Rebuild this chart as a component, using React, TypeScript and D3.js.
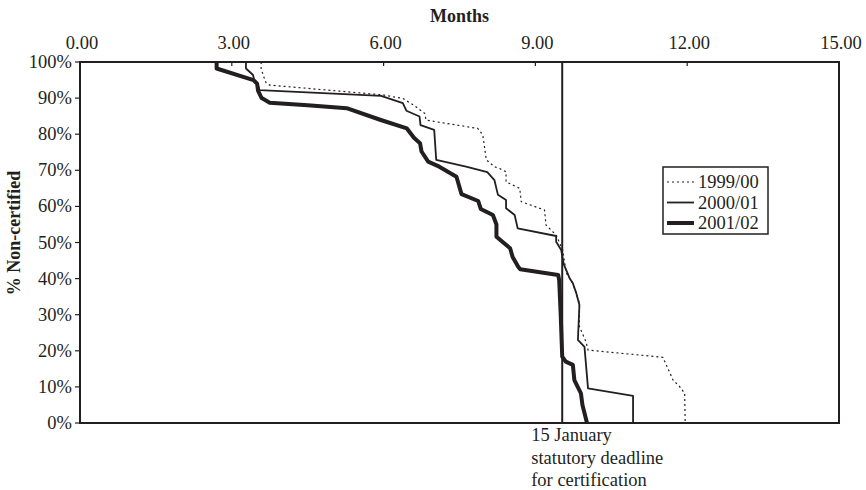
import * as d3 from 'd3';

// x ticks on top axis (months) and y ticks (% non-certified)
const monthTicks = [0, 3, 6, 9, 12, 15];
const pctTicks = [0, 10, 20, 30, 40, 50, 60, 70, 80, 90, 100];
const deadlineMonth = 9.53;
const deadlineLines = ['15 January', 'statutory deadline', 'for certification'];

const seriesNames = ['1999/00', '2000/01', '2001/02'];

const months1999 = [3.58, 3.58, 3.63, 3.68, 3.75, 5.98, 6.38, 6.6, 6.81, 6.84, 7.86, 7.96, 8.03, 8.19, 8.29, 8.42, 8.42, 8.69, 8.72, 9.18, 9.21, 9.41, 9.54, 9.61, 9.74, 9.87, 9.87, 10.0, 10.04, 11.52, 11.72, 11.85, 11.95, 11.96];
const pct1999 = [100, 98.2, 96, 94.1, 93.6, 90.9, 89.9, 88, 85.8, 83.9, 81.6, 79.8, 72.9, 71.0, 70.5, 69.6, 66.8, 65.0, 61.3, 59.0, 54.8, 52.1, 47.9, 41.5, 38.7, 33.2, 26.7, 22.5, 20.2, 18.2, 11.9, 10.1, 8.2, 0];

const months2000 = [3.28, 3.28, 3.42, 3.45, 3.52, 3.55, 5.95, 6.38, 6.45, 6.71, 6.73, 7.0, 7.04, 7.63, 8.05, 8.19, 8.26, 8.42, 8.42, 8.59, 8.65, 9.41, 9.41, 9.51, 9.56, 9.68, 9.74, 9.81, 9.87, 9.84, 9.97, 10.04, 10.93, 10.93];
const pct2000 = [100, 98.2, 96.4, 94.5, 93.5, 92.2, 90.6, 88.6, 86.5, 84.9, 82.5, 81.2, 72.9, 71.0, 69.5, 67.3, 63.2, 61.8, 59.5, 57.6, 53.9, 51.8, 50.2, 47.9, 44, 40, 38.7, 35.9, 32.7, 23, 21.1, 9.6, 7.5, 0];

const months2001 = [2.7, 2.7, 3.43, 3.5, 3.52, 3.59, 3.75, 4.5, 5.27, 5.93, 6.46, 6.6, 6.72, 6.75, 6.88, 7.1, 7.44, 7.54, 7.87, 7.92, 8.16, 8.23, 8.23, 8.5, 8.55, 8.66, 8.7, 9.45, 9.47, 9.5, 9.53, 9.6, 9.74, 9.77, 9.9, 9.93, 10.02];
const pct2001 = [100, 98.2, 95, 94, 92, 90, 88.7, 88, 87.2, 84, 81.6, 79, 77.5, 75.2, 72.4, 71, 68.2, 63.4, 61.5, 59.3, 57.6, 55, 51.6, 48.4, 46, 43.3, 42.6, 41.0, 39.6, 30, 18.4, 17, 16.1, 11.9, 8.2, 5, 0];

const FONT = '"Liberation Serif", "Times New Roman", serif';
const INK = '#231f20';

const App = () => {
  const width = 866;
  const height = 490;
  const margin = { top: 62, right: 27, bottom: 67, left: 80 };

  const x = d3.scaleLinear().domain([0, 15]).range([margin.left, width - margin.right]);
  const y = d3.scaleLinear().domain([0, 100]).range([height - margin.bottom, margin.top]);

  const line = d3.line<[number, number]>()
    .x(d => x(d[0]))
    .y(d => y(d[1]));

  const series = [
    { name: seriesNames[0], pts: d3.zip(months1999, pct1999) as [number, number][], w: 1.2, dash: '2,3' },
    { name: seriesNames[1], pts: d3.zip(months2000, pct2000) as [number, number][], w: 1.8, dash: undefined },
    { name: seriesNames[2], pts: d3.zip(months2001, pct2001) as [number, number][], w: 4, dash: undefined },
  ];

  const [x0, x1] = x.range();
  const [yb, yt] = y.range();

  const legendX = 663;
  const legendY = 167;

  return (
    <div style={{ position: 'absolute', left: 0, top: 0 }}>
      <svg width={width} height={height} style={{ display: 'block', background: '#fff' }}>
        {/* plot frame */}
        <rect x={x0} y={yt} width={x1 - x0} height={yb - yt} fill="none" stroke={INK} strokeWidth={2} />

        {/* top axis ticks + labels */}
        {monthTicks.map(t => (
          <g key={t}>
            <line x1={x(t)} x2={x(t)} y1={yt} y2={yt + 4} stroke={INK} strokeWidth={1.2} />
            <text x={x(t) + 2} y={49} textAnchor="middle" fontFamily={FONT} fontSize={18.5} fill={INK}>
              {t.toFixed(2)}
            </text>
          </g>
        ))}
        <text x={(x0 + x1) / 2} y={22} textAnchor="middle" fontFamily={FONT} fontSize={18} fontWeight="bold" fill={INK}>
          Months
        </text>

        {/* left axis ticks + labels */}
        {pctTicks.map(t => (
          <g key={t}>
            <line x1={x0 - 5} x2={x0} y1={y(t)} y2={y(t)} stroke={INK} strokeWidth={1.2} />
            <text x={x0 - 8} y={y(t) + 6} textAnchor="end" fontFamily={FONT} fontSize={18.5} fill={INK}>
              {t}%
            </text>
          </g>
        ))}
        <text
          transform={`translate(20,233) rotate(-90)`}
          textAnchor="middle"
          fontFamily={FONT}
          fontSize={18}
          fontWeight="bold"
          fill={INK}
        >
          % Non-certified
        </text>

        {/* deadline */}
        <line x1={x(deadlineMonth)} x2={x(deadlineMonth)} y1={yt} y2={yb} stroke={INK} strokeWidth={2} />
        {deadlineLines.map((s, i) => (
          <text key={s} x={x(deadlineMonth) - 31} y={441 + i * 22.5} fontFamily={FONT} fontSize={18.5} fill={INK}>
            {s}
          </text>
        ))}

        {/* series */}
        {series.map(s => (
          <path
            key={s.name}
            d={line(s.pts) ?? ''}
            fill="none"
            stroke={INK}
            strokeWidth={s.w}
            strokeDasharray={s.dash}
            strokeLinejoin="round"
          />
        ))}

        {/* legend */}
        <rect x={legendX} y={legendY} width={105} height={67} fill="#fff" stroke={INK} strokeWidth={1.5} />
        {series.map((s, i) => (
          <g key={s.name}>
            <line
              x1={legendX + 4}
              x2={legendX + 31}
              y1={legendY + 15 + i * 20.5}
              y2={legendY + 15 + i * 20.5}
              stroke={INK}
              strokeWidth={s.w}
              strokeDasharray={s.dash}
            />
            <text x={legendX + 35} y={legendY + 21 + i * 20.5} fontFamily={FONT} fontSize={18.5} fill={INK}>
              {s.name}
            </text>
          </g>
        ))}
      </svg>
    </div>
  );
};

export default App;
